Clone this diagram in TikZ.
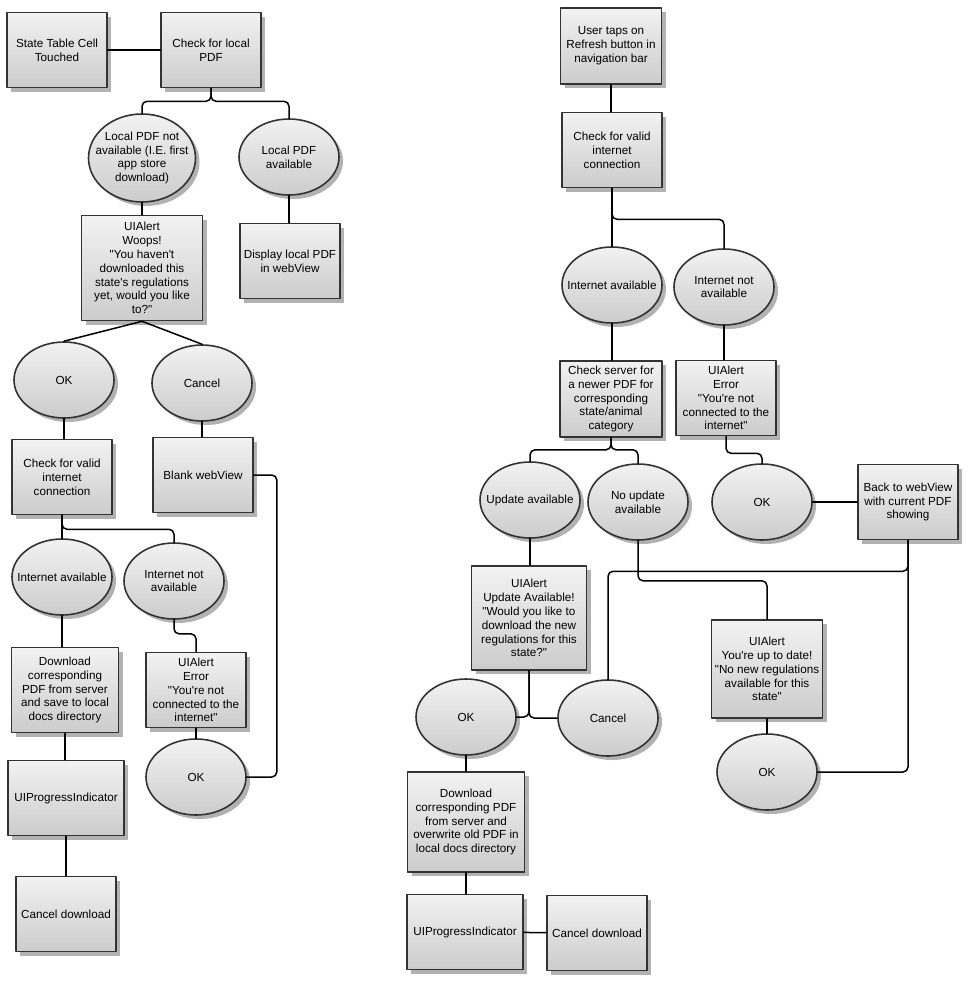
\documentclass[tikz,border=0pt]{standalone}
\usepackage{fontspec}
\setmainfont{Liberation Sans}[Ligatures=TeXOff]
\usetikzlibrary{shapes.geometric,shadows}
\definecolor{shadetop}{HTML}{F2F2F2}
\definecolor{shadebot}{HTML}{CCCCCC}
\definecolor{edgegray}{HTML}{333333}
\tikzset{
  flowshade/.style={draw=edgegray,line width=1.6pt,top color=shadetop,bottom color=shadebot,
    drop shadow={shadow xshift=4pt,shadow yshift=-4pt,fill=black!30,opacity=1}},
  flowbox/.style={flowshade,rectangle,minimum width=100pt,minimum height=75pt,align=center,inner sep=2pt},
  flowoval/.style={flowshade,ellipse,minimum width=100pt,minimum height=76pt,inner sep=0pt},
  wire/.style={line width=1.5pt,rounded corners=5pt}
}
\begin{document}
\begin{tikzpicture}[x=1pt,y=-1pt,font=\fontsize{11.7}{13.9}\selectfont, line join=round, line cap=round]
\fill[white] (0,0) rectangle (978,991);
% left: state table cell
\node[flowbox] (a1) at (57,50) {State Table Cell\\Touched};
\node[flowbox] (a2) at (211,50) {Check for local\\PDF};
\node[flowoval,minimum width=107pt,minimum height=88pt,label={[align=center]center:{Local PDF not\\available (I.E. first\\app store\\download)}}] (e1) at (142,158) {};
\node[flowoval,label={[align=center]center:{Local PDF\\available}}] (e2) at (289,157) {};
\node[flowbox,minimum width=121pt,minimum height=105pt] (a3) at (142,268) {UIAlert\\Woops!\\"You haven't\\downloaded this\\state's regulations\\yet, would you like\\to?"};
\node[flowbox] (a4) at (290,261) {Display local PDF\\in webView};
\node[flowoval,label=center:OK] (ok1) at (64,380) {};
\node[flowoval,label=center:Cancel] (cn1) at (202,383) {};
\node[flowbox] (a5) at (62,477) {Check for valid\\internet\\connection};
\node[flowbox] (a6) at (203,475) {Blank webView};
\node[flowoval,label=center:Internet available] (e3) at (62,577) {};
\node[flowoval,label={[align=center]center:{Internet not\\available}}] (e4) at (174,581) {};
\node[flowbox,minimum width=107pt,minimum height=85pt] (a7) at (65,690) {Download\\corresponding\\PDF from server\\and save to local\\docs directory};
\node[flowbox] (a8) at (196,690) {UIAlert\\Error\\"You're not\\connected to the\\internet"};
\node[flowoval,label=center:OK] (ok2) at (196,777) {};
\node[flowbox,minimum width=116pt] (a9) at (66,798) {UIProgressIndicator};
\node[flowbox] (a10) at (66,914) {Cancel download};
% right: refresh button
\node[flowbox,minimum width=101pt,minimum height=76pt] (b1) at (611,46) {User taps on\\Refresh button in\\navigation bar};
\node[flowbox] (b2) at (612,150) {Check for valid\\internet\\connection};
\node[flowoval,label=center:Internet available] (e5) at (612,285) {};
\node[flowoval,label={[align=center]center:{Internet not\\available}}] (e6) at (724,287) {};
\node[flowbox,minimum width=102pt,minimum height=76pt] (b3) at (611,399) {Check server for\\a newer PDF for\\corresponding\\state/animal\\category};
\node[flowbox] (b4) at (726,398) {UIAlert\\Error\\"You're not\\connected to the\\internet"};
\node[flowoval,label=center:Update available] (e7) at (530,500) {};
\node[flowoval,label={[align=center]center:{No update\\available}}] (e8) at (638,502) {};
\node[flowoval,label=center:OK] (ok3) at (762,502) {};
\node[flowbox] (b5) at (908,502) {Back to webView\\with current PDF\\showing};
\node[flowbox,minimum width=115pt,minimum height=104pt] (b7) at (529,618) {UIAlert\\Update Available!\\"Would you like to\\download the new\\regulations for this\\state?"};
\node[flowbox,minimum width=111pt,minimum height=98pt] (b6) at (767,669) {UIAlert\\You're up to date!\\"No new regulations\\available for this\\state"};
\node[flowoval,label=center:OK] (ok4) at (466,717) {};
\node[flowoval,label=center:Cancel] (cn2) at (608,718) {};
\node[flowoval,label=center:OK] (ok5) at (767,772) {};
\node[flowbox,minimum width=117pt,minimum height=100pt] (b8) at (466,822) {Download\\corresponding PDF\\from server and\\overwrite old PDF in\\local docs directory};
\node[flowbox,minimum width=116pt] (b9) at (465,932) {UIProgressIndicator};
\node[flowbox] (b10) at (597,933) {Cancel download};
% connectors
\foreach \a/\b in {e1/a3,e2/a4,ok1/a5,cn1/a6,a5/e3,e3/a7,a8/ok2,a7/a9,a9/a10,b1/b2,b2/e5,e5/b3,e6/b4,e7/b7,ok4/b8,b8/b9,b6/ok5}
  \draw[wire] (\a.south) -- (\a.south |- \b.north);
\draw[wire] (a1) -- (a2);
\draw[wire] (a2.south) -- ++(0,13) -| (e1.north);
\draw[wire] (a2.south) -- ++(0,13) -| (e2.north);
\draw[wire] (a3.south) -- (ok1.north);
\draw[wire] (a3.south) -- (cn1.north);
\draw[wire] (a6.east) -- ++(23,0) |- (ok2.east);
\draw[wire] (a5.south) -- ++(0,14) -| (e4.north);
\draw[wire] (e4.south) -- ++(0,14) -| (a8.north);
\draw[wire] (b2.south) -- ++(0,31) -| (e6.north);
\draw[wire] (b3.south) -- ++(0,12) -| (e7.north);
\draw[wire] (b3.south) -- ++(0,12) -| (e8.north);
\draw[wire] (b4.south) -- ++(0,17) -| (ok3.north);
\draw[wire] (ok3) -- (b5);
\draw[wire] (e8.south) -- ++(0,40) -| (b6.north);
\draw[wire] (b7.south) |- (ok4.east);
\draw[wire] (b7.south) |- (cn2.west);
\draw[wire] (b5.south) |- (ok5.east);
\draw[wire] (b5.south) -- ++(0,31) -| (cn2.north);
\draw[wire] (b9) -- (b10);
\end{tikzpicture}
\end{document}
